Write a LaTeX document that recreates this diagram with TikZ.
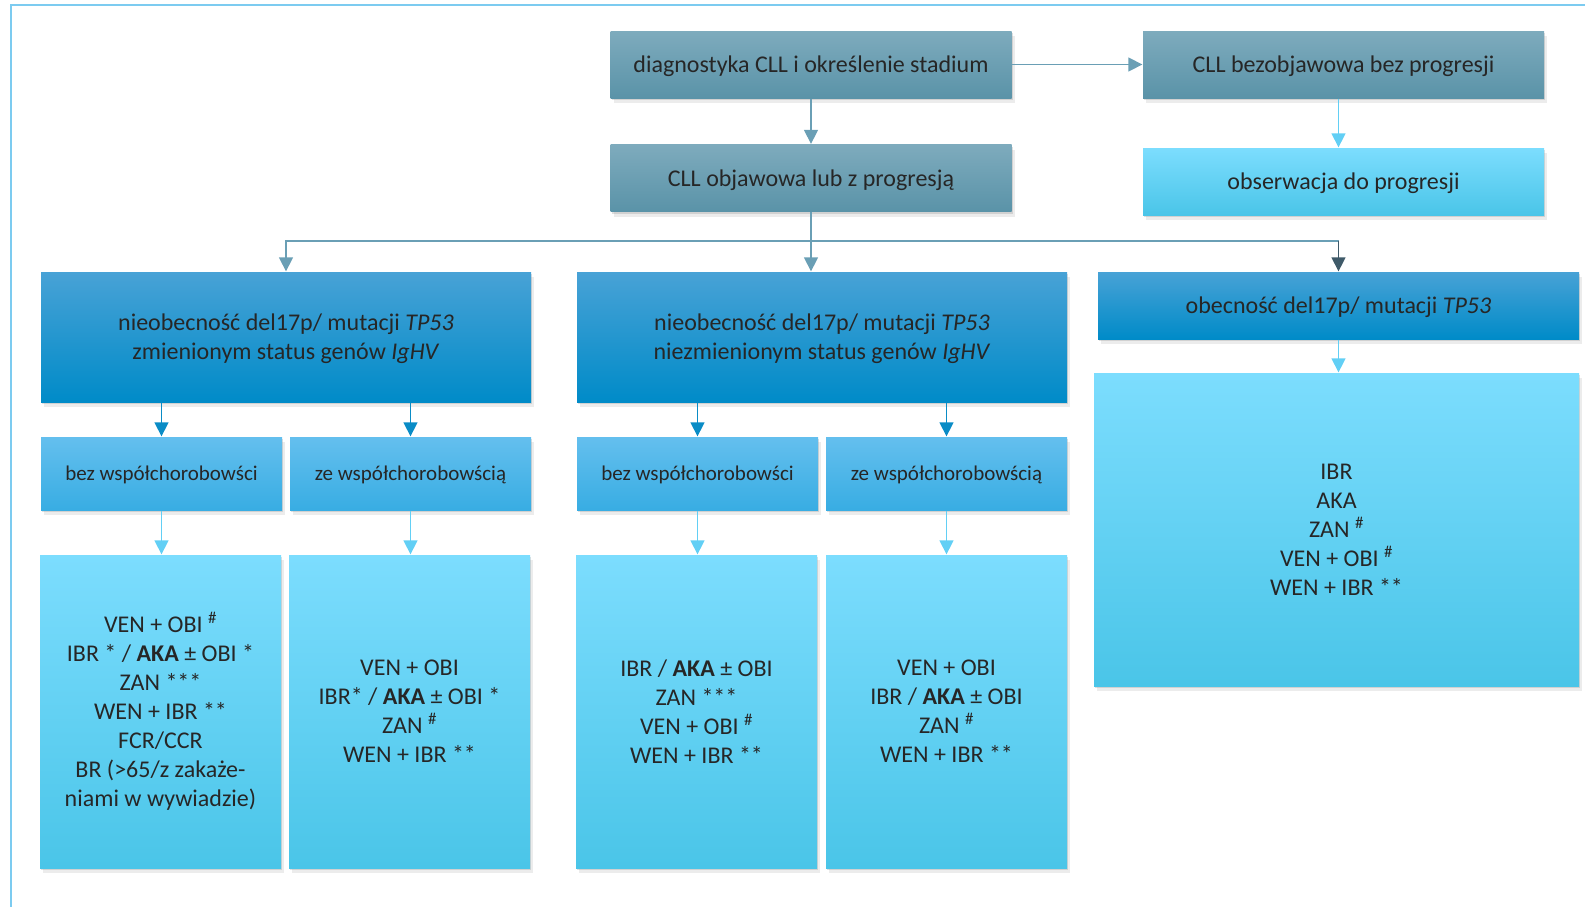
\documentclass[tikz,border=0pt]{standalone}
\usepackage{fontspec}
\setmainfont{Carlito}
\usetikzlibrary{arrows.meta, positioning, shadows}

\definecolor{steelTop}{HTML}{7EABBD}
\definecolor{steelBot}{HTML}{5A93A8}
\definecolor{blueTop}{HTML}{48A2D6}
\definecolor{blueBot}{HTML}{008BC8}
\definecolor{skyTop}{HTML}{64BFEE}
\definecolor{skyBot}{HTML}{38ADE3}
\definecolor{cyanTop}{HTML}{7CDDFE}
\definecolor{cyanMid}{HTML}{5ED6FB}
\definecolor{cyanBot}{HTML}{4AC5E8}
\definecolor{lineSteel}{HTML}{6A9FB5}
\definecolor{lineDark}{HTML}{3F5A69}
\definecolor{lineBlue}{HTML}{0A8CC6}
\definecolor{lineCyan}{HTML}{62CFF5}
\definecolor{frameBlue}{HTML}{7CCBF0}

\begin{document}
\begin{tikzpicture}[x=1pt, y=-1pt, line width=1.3pt,
    >={Triangle[width=14pt, length=14pt]},
    cell/.style={inner sep=0pt, align=center, text=black!85,
      drop shadow={shadow xshift=1pt, shadow yshift=-2pt, opacity=.25},
      drop shadow={shadow xshift=3pt, shadow yshift=-5pt, opacity=.15}},
    stage/.style={cell, top color=steelTop, bottom color=steelBot,
      minimum width=401pt, minimum height=67pt, text depth=0pt,
      font=\fontsize{24}{29}\selectfont},
    watch/.style={stage, top color=cyanTop, bottom color=cyanBot},
    group/.style={cell, top color=blueTop, bottom color=blueBot,
      minimum width=490pt, minimum height=130pt, text depth=0pt,
      font=\fontsize{24}{29}\selectfont},
    sub/.style={cell, top color=skyTop, bottom color=skyBot,
      minimum width=241pt, minimum height=73pt, text depth=0pt,
      font=\fontsize{21}{25}\selectfont},
    therapy/.style={cell, top color=cyanTop, middle color=cyanMid,
      bottom color=cyanBot, minimum width=241pt, minimum height=313pt,
      font=\fontsize{24}{29}\selectfont}]
  \useasboundingbox (0,0) rectangle (1585,906);

  % Frame round the chart
  \draw[frameBlue, line width=2pt] (11,920) -- (11,5) -- (1600,5);

  % Diagnosis and stage
  \node[stage] (diag) at (811,64.5) {diagnostyka CLL i określenie stadium};
  \node[stage] (objaw) at (811,178) {CLL objawowa lub z progresją};
  \node[stage] (bezobj) at (1343.5,64.5) {CLL bezobjawowa bez progresji};
  \node[watch] (obserw) at (1343.5,181.5) {obserwacja do progresji};

  % Genetic groups
  \node[group] (absL) at (286,337)
    {nieobecność del17p/ mutacji \textit{TP53}\\zmienionym status genów \textit{IgHV}};
  \node[group] (absM) at (822,337)
    {nieobecność del17p/ mutacji \textit{TP53}\\niezmienionym status genów \textit{IgHV}};
  \node[group, minimum width=481pt, minimum height=67pt] (pres) at (1338.5,305.5)
    {obecność del17p/ mutacji \textit{TP53}};

  % Comorbidity
  \node[sub] (bezL) at (161.5,473.5) {bez współchorobowści};
  \node[sub] (zeL)  at (410.5,473.5) {ze współchorobowścią};
  \node[sub] (bezM) at (697.5,473.5) {bez współchorobowści};
  \node[sub] (zeM)  at (946.5,473.5) {ze współchorobowścią};

  % Therapy options
  \node[therapy] (txL1) at (160.5,711.5)
    {VEN + OBI \textsuperscript{\#}\\IBR * / \textbf{AKA} ± OBI *\\ZAN ***\\
     WEN + IBR **\\FCR/CCR\\BR (>65/z zakaże-\\niami w wywiadzie)};
  \node[therapy] (txL2) at (409.5,711.5)
    {VEN + OBI\\IBR* / \textbf{AKA} ± OBI *\\ZAN \textsuperscript{\#}\\WEN + IBR **};
  \node[therapy] (txM1) at (696.5,711.5)
    {IBR / \textbf{AKA} ± OBI\\ZAN ***\\VEN + OBI \textsuperscript{\#}\\WEN + IBR **};
  \node[therapy] (txM2) at (946.5,711.5)
    {VEN + OBI\\IBR / \textbf{AKA} ± OBI\\ZAN \textsuperscript{\#}\\WEN + IBR **};
  \node[therapy, minimum width=485pt] (txR) at (1336.5,529.5)
    {IBR\\AKA\\ZAN \textsuperscript{\#}\\VEN + OBI \textsuperscript{\#}\\WEN + IBR **};

  % Connectors
  \coordinate (fork) at (811,241);
  \draw[->, lineSteel] (diag) -- (objaw);
  \draw[->, lineSteel] (diag) -- (bezobj);
  \draw[->, lineCyan] (bezobj.south -| pres) -- (obserw.north -| pres);
  \draw[->, lineSteel] (objaw) -- (objaw |- absM.north);
  \draw[->, lineSteel] (fork) -| (absL);
  \draw[lineSteel] (fork) -- (fork -| pres);
  \draw[->, lineDark] (fork -| pres) -- (pres);
  \draw[->, lineCyan] (pres) -- (pres |- txR.north);
  \foreach \up/\down in {bezL/txL1, zeL/txL2, bezM/txM1, zeM/txM2} {
    \draw[->, lineCyan] (\up) -- (\up |- \down.north);
  }
  \foreach \sub/\top in {bezL/absL, zeL/absL, bezM/absM, zeM/absM} {
    \draw[->, lineBlue] (\top.south -| \sub) -- (\sub);
  }
\end{tikzpicture}
\end{document}
